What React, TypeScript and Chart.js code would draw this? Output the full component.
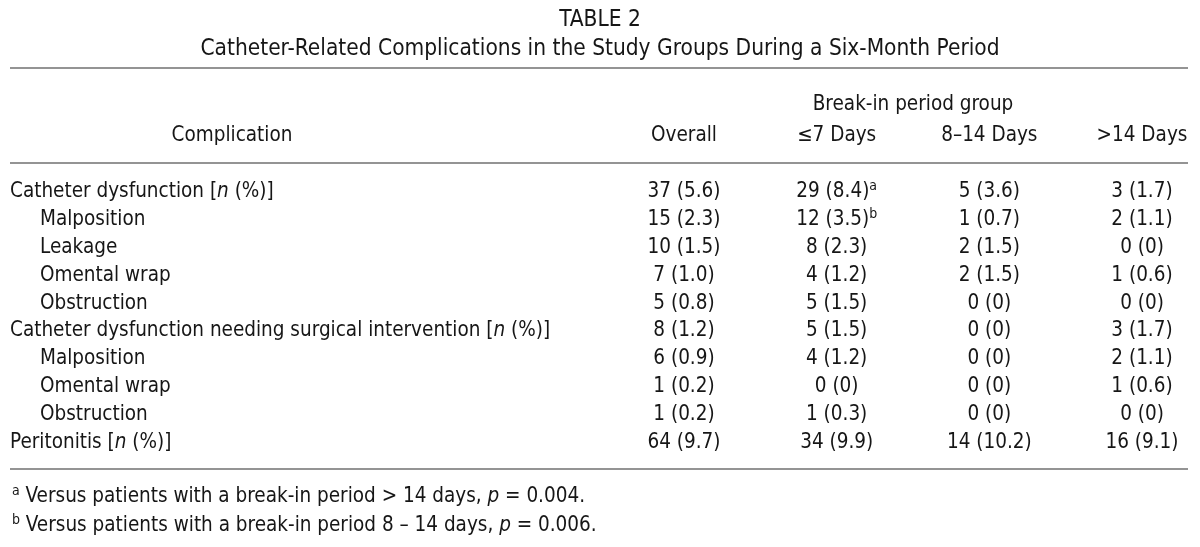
import React, { useEffect, useRef } from "react";
import { Chart, registerables } from "chart.js";

Chart.register(...registerables);

const tableNumber = "TABLE 2";
const tableTitle = "Catheter-Related Complications in the Study Groups During a Six-Month Period";
const groupHeader = "Break-in period group";
const stubHeader = "Complication";
const columns = ["Overall", "≤7 Days", "8–14 Days", ">14 Days"];

const rowLabels = [
  "Catheter dysfunction",
  "Malposition",
  "Leakage",
  "Omental wrap",
  "Obstruction",
  "Catheter dysfunction needing surgical intervention",
  "Malposition",
  "Omental wrap",
  "Obstruction",
  "Peritonitis",
];
const rowLevel = [0, 1, 1, 1, 1, 0, 1, 1, 1, 0];

const overallN = [37, 15, 10, 7, 5, 8, 6, 1, 1, 64];
const overallPct = [5.6, 2.3, 1.5, 1.0, 0.8, 1.2, 0.9, 0.2, 0.2, 9.7];
const le7N = [29, 12, 8, 4, 5, 5, 4, 0, 1, 34];
const le7Pct = [8.4, 3.5, 2.3, 1.2, 1.5, 1.5, 1.2, 0, 0.3, 9.9];
const d8to14N = [5, 1, 2, 2, 0, 0, 0, 0, 0, 14];
const d8to14Pct = [3.6, 0.7, 1.5, 1.5, 0, 0, 0, 0, 0, 10.2];
const gt14N = [3, 2, 0, 1, 0, 3, 2, 1, 0, 16];
const gt14Pct = [1.7, 1.1, 0, 0.6, 0, 1.7, 1.1, 0.6, 0, 9.1];
const le7Marks = ["a", "b", "", "", "", "", "", "", "", ""];

const footnotes = [
  { mark: "a", pre: " Versus patients with a break-in period > 14 days, ", p: "p", post: " = 0.004." },
  { mark: "b", pre: " Versus patients with a break-in period 8 – 14 days, ", p: "p", post: " = 0.006." },
];

const rowKeys = rowLabels.map((_, i) => `row${i}`);

const FONT = '"Liberation Sans Narrow", "DejaVu Sans Condensed", "Arial Narrow", sans-serif';
const INK = "#161616";
const RULE = "#707070";

type Seg = { t: string; it?: boolean; sup?: boolean };

function fontFor(size: number, seg: Seg) {
  const s = seg.sup ? Math.round(size * 0.7) : size;
  return `${seg.it ? "italic " : ""}${s}px ${FONT}`;
}

function drawRich(ctx: CanvasRenderingContext2D, segs: Seg[], x: number, y: number, size: number, align: "left" | "center") {
  let total = 0;
  for (const s of segs) {
    ctx.font = fontFor(size, s);
    total += ctx.measureText(s.t).width;
  }
  let cx = align === "center" ? x - total / 2 : x;
  ctx.textAlign = "left";
  ctx.textBaseline = "alphabetic";
  for (const s of segs) {
    ctx.font = fontFor(size, s);
    ctx.fillText(s.t, cx, s.sup ? y - size * 0.36 : y);
    cx += ctx.measureText(s.t).width;
  }
}

function fmt(n: number, p: number) {
  return `${n} (${p === 0 ? "0" : p.toFixed(1)})`;
}

const columnN = [overallN, le7N, d8to14N, gt14N];
const columnPct = [overallPct, le7Pct, d8to14Pct, gt14Pct];

export default function App() {
  const ref = useRef<HTMLCanvasElement | null>(null);

  useEffect(() => {
    document.body.style.margin = "0";
    const canvas = ref.current;
    if (!canvas) return;
    const SIZE = 20.5;

    const tablePlugin = {
      id: "tableText",
      afterDatasetsDraw(chart: any) {
        const ctx: CanvasRenderingContext2D = chart.ctx;
        const xs = chart.scales.x;
        const ys = chart.scales.y;
        ctx.save();
        ctx.fillStyle = INK;
        // titles
        drawRich(ctx, [{ t: tableNumber }], 600, 26, 22.5, "center");
        drawRich(ctx, [{ t: tableTitle }], 600, 55, 22.5, "center");
        // rules
        ctx.strokeStyle = RULE;
        ctx.lineWidth = 1.5;
        const rowStep = ys.getPixelForValue(1) - ys.getPixelForValue(0);
        const topRuleY = 68;
        const headRuleY = 163;
        const bottomRuleY = ys.getPixelForValue(rowKeys.length - 1) + rowStep;
        for (const yy of [topRuleY, headRuleY, bottomRuleY]) {
          ctx.beginPath();
          ctx.moveTo(10, yy);
          ctx.lineTo(1188, yy);
          ctx.stroke();
        }
        // headers
        const groupCenter = (xs.getPixelForValue(1) + xs.getPixelForValue(2)) / 2;
        drawRich(ctx, [{ t: groupHeader }], groupCenter, 110, SIZE, "center");
        drawRich(ctx, [{ t: stubHeader }], 232, 141, SIZE, "center");
        columns.forEach((c, i) => {
          drawRich(ctx, [{ t: c }], xs.getPixelForValue(i), 141, SIZE, "center");
        });
        // row labels
        rowLabels.forEach((lab, i) => {
          const y = ys.getPixelForValue(i) + 7;
          const x = rowLevel[i] === 0 ? 10 : 40;
          const segs: Seg[] = rowLevel[i] === 0
            ? [{ t: lab + " [" }, { t: "n", it: true }, { t: " (%)]" }]
            : [{ t: lab }];
          drawRich(ctx, segs, x, y, SIZE, "left");
        });
        // cells, positioned by the dataset elements
        chart.data.datasets.forEach((ds: any, di: number) => {
          const meta = chart.getDatasetMeta(di);
          meta.data.forEach((el: any, ri: number) => {
            const segs: Seg[] = [{ t: fmt(columnN[di][ri], columnPct[di][ri]) }];
            if (di === 1 && le7Marks[ri]) segs.push({ t: le7Marks[ri], sup: true });
            drawRich(ctx, segs, el.x, el.y + 7, SIZE, "center");
          });
        });
        // footnotes
        footnotes.forEach((f, i) => {
          const y = bottomRuleY + 33 + i * 29;
          drawRich(ctx, [{ t: f.mark, sup: true }, { t: f.pre }, { t: f.p, it: true }, { t: f.post }], 12, y, SIZE, "left");
        });
        ctx.restore();
      },
    };

    const chart = new Chart(canvas, {
      type: "scatter",
      data: {
        datasets: columns.map((c) => ({
          label: c,
          data: rowKeys.map((k) => ({ x: c, y: k })),
          pointRadius: 0,
          pointHoverRadius: 0,
        })),
      },
      options: {
        responsive: false,
        animation: false,
        events: [],
        layout: { padding: { left: 684, right: 58, top: 190, bottom: 106 } },
        plugins: { legend: { display: false }, tooltip: { enabled: false }, title: { display: false } },
        scales: {
          x: { type: "category", labels: columns, offset: false, display: false },
          y: { type: "category", labels: rowKeys, offset: false, display: false },
        },
      },
      plugins: [tablePlugin],
    } as any);
    return () => chart.destroy();
  }, []);

  return (
    <div style={{ width: 1200, height: 547, background: "#fff" }}>
      <canvas ref={ref} width={1200} height={547} />
    </div>
  );
}
